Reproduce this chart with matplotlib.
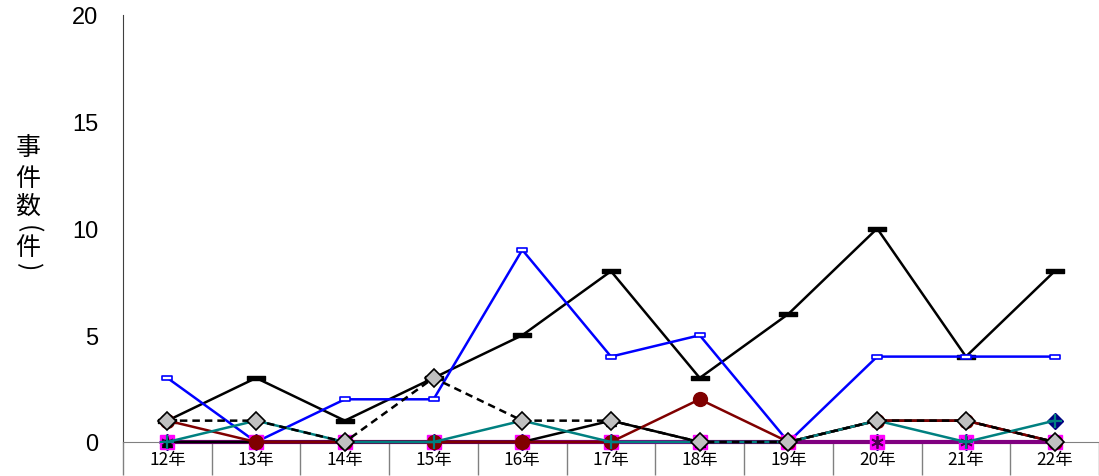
import numpy as np
import matplotlib.pyplot as plt
from matplotlib.path import Path

plt.rcParams['font.family'] = ['Noto Sans CJK JP', 'DejaVu Sans']

years = ['12年', '13年', '14年', '15年', '16年', '17年', '18年', '19年', '20年', '21年', '22年']

s_black = [1, 3, 1, 3, 5, 8, 3, 6, 10, 4, 8]
s_blue = [3, 0, 2, 2, 9, 4, 5, 0, 4, 4, 4]
s_purple = [0, 0, 0, 0, 0, 0, 0, 0, 0, 0, 0]
s_star = [0, 0, 0, 0, 0, 0, 0, 0, 0, 0, 0]
s_maroon = [1, 0, 0, 0, 0, 0, 2, 0, 1, 1, 0]
s_tri = [0, 0, 0, 0, 0, 1, 0, 0, 1, 1, 0]
s_teal = [0, 1, 0, 0, 1, 0, 0, 0, 1, 0, 1]
s_navy = [0, 0, 0, 0, 0, 0, 0, 0, 0, 0, 1]
s_dash = [1, 1, 0, 3, 1, 1, 0, 0, 1, 1, 0]

x = np.arange(len(years))

# 横長の四角マーカー
def flat_rect(h):
    return Path([(-1, -h), (1, -h), (1, h), (-1, h), (-1, -h)],
                [Path.MOVETO, Path.LINETO, Path.LINETO, Path.LINETO, Path.CLOSEPOLY])

fig = plt.figure(figsize=(10.99, 4.77), dpi=100)
ax = fig.add_axes([123 / 1099, 34 / 477, 976 / 1099, 427 / 477])

lw = 1.8
kw = dict(clip_on=False)
ax.plot(x, s_navy, linestyle='none', marker='D', ms=8, mfc='#000080', mec='#000080', zorder=2.5, **kw)
ax.plot(x[-1], s_navy[-1], linestyle='none', marker='+', ms=10, mew=1.4, color='#008080', zorder=6, **kw)
ax.plot(x, s_black, color='black', lw=lw, marker=flat_rect(0.25), ms=13, mfc='black', mec='black', zorder=3, **kw)
ax.plot(x, s_blue, color='#0000FF', lw=lw, marker=flat_rect(0.4), ms=7, mfc='white', mec='#0000FF', mew=1.2, zorder=3, **kw)
ax.plot(x, s_purple, color='#800080', lw=3, marker='s', ms=10, mfc='#FF00FF', mec='#FF00FF', zorder=3, **kw)
ax.plot(x, s_star, linestyle='none', marker=(6, 2, 0), ms=9, mec='#4B0050', mew=1.3, zorder=3.1, **kw)
ax.plot(x, s_tri, color='black', lw=lw, marker='^', ms=7, mfc='black', zorder=3.5, **kw)
ax.plot(x, s_maroon, color='#800000', lw=lw, marker='o', ms=10, mfc='#800000', mec='#800000', zorder=4, **kw)
ax.plot(x, s_teal, color='#008080', lw=lw, marker='+', ms=10, mew=1.6, zorder=5, **kw)
ax.plot(x, s_dash, color='black', lw=lw, ls=(0, (3, 2)), marker='D', ms=9, mfc='#C0C0C0', mec='black', mew=1.2, zorder=6, **kw)

ax.set_xlim(-0.5, 10.47)
ax.set_ylim(0, 20)
ax.set_yticks([0, 5, 10, 15, 20])
ax.tick_params(axis='y', length=0, labelsize=17, pad=18)
for t in ax.get_yticklabels():
    t.set_family('Liberation Sans')

ax.set_xticks(x)
ax.set_xticklabels(years, fontsize=12.5)
ax.tick_params(axis='x', which='major', length=0, pad=6)
ax.set_xticks(np.arange(-0.5, 10.6, 1.0), minor=True)
ax.tick_params(axis='x', which='minor', length=24, width=1, color='#808080', direction='out')

for sp in ['top', 'right']:
    ax.spines[sp].set_visible(False)
ax.spines['bottom'].set_color('#808080')
ax.spines['left'].set_color('#404040')

# 縦書きの軸ラベル
label_chars = [('事', 148, 0), ('件', 179, 0), ('数', 207, 0), ('(', 229, -90), ('件', 248, 0), (')', 267, -90)]
for ch, yy, rot in label_chars:
    fig.text(28 / 1099, 1 - yy / 477, ch, fontsize=18, ha='center', va='center',
             rotation=rot, rotation_mode='anchor')

fig.savefig('out.png', dpi=100)
